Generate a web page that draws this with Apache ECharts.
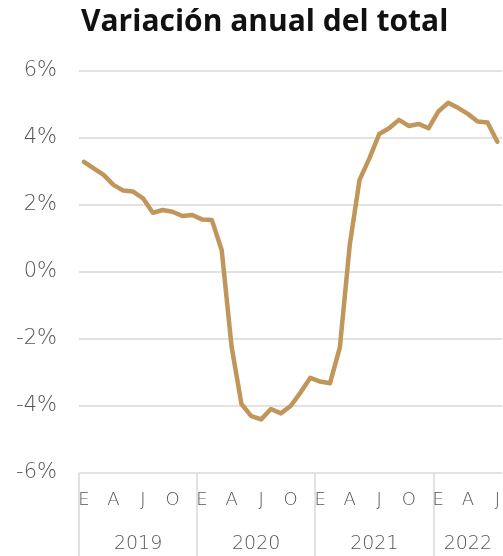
<!DOCTYPE html>
<html>
<head>
<meta charset="utf-8">
<script src="https://cdn.jsdelivr.net/npm/echarts@6/dist/echarts.min.js"></script>
<style>
  html, body { margin: 0; padding: 0; background: #fff; }
  #chart { width: 503px; height: 556px; }
</style>
</head>
<body>
<div id="chart"></div>
<script>
// Monthly series, January 2019 to July 2022
const years = ['2019', '2020', '2021', '2022'];
const monthLetters = ['E', 'F', 'M', 'A', 'M', 'J', 'J', 'A', 'S', 'O', 'N', 'D'];
const yearMonths = [12, 12, 12, 7];

// Year-on-year change of the total (%)
const values2019 = [3.29, 3.09, 2.9, 2.6, 2.43, 2.4, 2.2, 1.77, 1.85, 1.8, 1.67, 1.7];
const values2020 = [1.57, 1.55, 0.65, -2.23, -3.94, -4.3, -4.4, -4.09, -4.22, -4.0, -3.6, -3.16];
const values2021 = [-3.27, -3.32, -2.25, 0.8, 2.75, 3.39, 4.12, 4.29, 4.54, 4.36, 4.42, 4.29];
const values2022 = [4.79, 5.05, 4.9, 4.72, 4.49, 4.46, 3.89];

// Y-axis tick labels
const yTicks = [-6, -4, -2, 0, 2, 4, 6];

const values = [].concat(values2019, values2020, values2021, values2022);
const categories = [];
years.forEach((y, yi) => {
  for (let m = 0; m < yearMonths[yi]; m++) categories.push(y + '-' + (m + 1));
});
const totalMonths = categories.length;

// year boundaries and year-label centres, in months from the start
const boundaries = [];
const centres = [];
let acc = 0;
yearMonths.forEach(n => { boundaries.push(acc); centres.push(acc + n / 2); acc += n; });

const TITLE_FONT = '"Open Sans", "DejaVu Sans", sans-serif';
const FONT = '"DejaVu Sans", "Open Sans", sans-serif';
const GREY = '#555';
const LINE_GREY = '#d9d9d9';

const chart = echarts.init(document.getElementById('chart'), null, { renderer: 'canvas' });
chart.setOption({
  animation: false,
  title: {
    text: 'Variación anual del total',
    left: 76,
    top: 2,
    textStyle: { fontFamily: TITLE_FONT, fontWeight: 'bold', fontSize: 30, color: '#111' }
  },
  grid: { left: 79, right: 0, top: 71, bottom: 83, containLabel: false },
  xAxis: [
    {
      type: 'category',
      data: categories,
      boundaryGap: true,
      axisLine: { show: false },
      axisTick: { show: false },
      axisLabel: {
        interval: (i) => (i % 12) % 3 === 0,
        formatter: (v, i) => monthLetters[i % 12],
        margin: 18,
        fontFamily: FONT,
        fontWeight: 200,
        fontSize: 18,
        color: GREY
      },
      splitLine: { show: false }
    },
    {
      type: 'value',
      min: 0,
      max: totalMonths,
      position: 'bottom',
      axisLine: { show: false },
      axisTick: {
        show: true,
        customValues: boundaries,
        inside: false,
        length: 90,
        lineStyle: { color: LINE_GREY, width: 1.5 }
      },
      axisLabel: {
        customValues: centres,
        formatter: (v) => years[centres.indexOf(v)] || '',
        margin: 62,
        fontFamily: FONT,
        fontWeight: 200,
        fontSize: 19,
        color: GREY,
        showMinLabel: true,
        showMaxLabel: true
      },
      splitLine: { show: false }
    }
  ],
  yAxis: {
    type: 'value',
    min: -6,
    max: 6,
    interval: 2,
    axisLine: { show: false },
    axisTick: { show: false },
    axisLabel: {
      formatter: (v) => yTicks.indexOf(v) >= 0 ? v + '%' : '',
      margin: 22,
      fontFamily: FONT,
      fontWeight: 200,
      fontSize: 21,
      color: GREY
    },
    splitLine: { show: true, lineStyle: { color: LINE_GREY, width: 1.5 } }
  },
  series: [
    {
      type: 'line',
      xAxisIndex: 0,
      data: values,
      showSymbol: false,
      lineStyle: { color: '#c0965a', width: 4.5, join: 'round', cap: 'round' },
      z: 5
    }
  ]
});
</script>
</body>
</html>
